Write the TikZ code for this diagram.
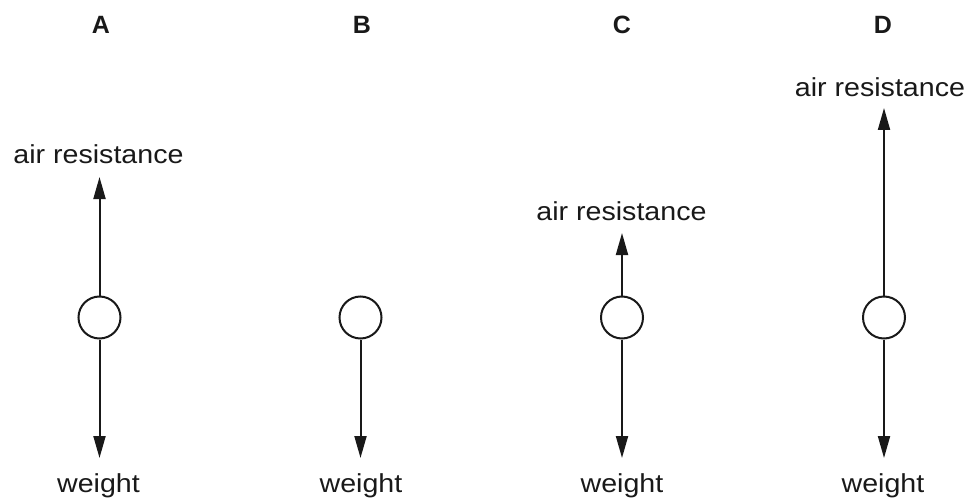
\documentclass[tikz,border=0pt]{standalone}
\usepackage{fontspec}
\setmainfont{Liberation Sans}
\newfontfamily\widefont[FakeStretch=1.1]{Liberation Sans}
\usetikzlibrary{arrows.meta}
\begin{document}
\begin{tikzpicture}[x=1pt,y=-1pt,
  ball/.style={draw=black!90,line width=2pt,circle,minimum size=42pt,inner sep=0pt},
  force/.style={draw=black!90,line width=2pt,-{Triangle[length=22pt,width=12pt]}},
  lbl/.style={anchor=base,inner sep=0pt,text=black!90,font=\widefont\fontsize{26pt}{30pt}\selectfont},
  head/.style={anchor=base,inner sep=0pt,text=black!90,font=\fontsize{25pt}{29pt}\selectfont\bfseries}]
\useasboundingbox (0,0) rectangle (974,500);
% column headings
\node[head] (hA) at (101,33.3) {A};
\node[head] (hB) at (362,33.3) {B};
\node[head] (hC) at (622,33.3) {C};
\node[head] (hD) at (883,33.3) {D};
% balls
\node[ball] (cA) at (99.5,317.5) {};
\node[ball] (cB) at (360.5,317.5) {};
\node[ball] (cC) at (622,317.5) {};
\node[ball] (cD) at (884,317.5) {};
% arrow tips
\coordinate (uA) at (99.5,177);
\coordinate (uC) at (622,233);
\coordinate (uD) at (884,108);
\coordinate (dA) at (99.5,458);
\coordinate (dB) at (360.5,458);
\coordinate (dC) at (622,458);
\coordinate (dD) at (884,458);
% labels
\node[lbl] (aA) at (98.5,164) {air resistance};
\node[lbl] (aC) at (621.5,220.7) {air resistance};
\node[lbl] (aD) at (880,96.7) {air resistance};
\node[lbl] (wA) at (98.5,492.5) {weight};
\node[lbl] (wB) at (361,492.5) {weight};
\node[lbl] (wC) at (622,492.5) {weight};
\node[lbl] (wD) at (883,492.5) {weight};
% forces
\draw[force] (cA.north) -- (uA);
\draw[force] (cC.north) -- (uC);
\draw[force] (cD.north) -- (uD);
\draw[force] (cA.south) -- (dA);
\draw[force] (cB.south) -- (dB);
\draw[force] (cC.south) -- (dC);
\draw[force] (cD.south) -- (dD);
\end{tikzpicture}
\end{document}
